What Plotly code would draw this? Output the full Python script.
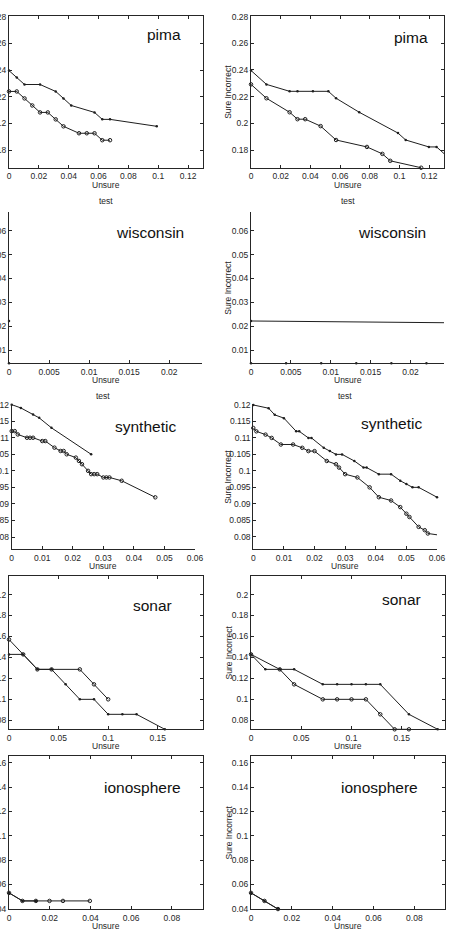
import plotly.graph_objects as go

W, H = 450, 933

# ---------------- data ----------------
# pima
pima_a_x_dot = [0, 0.0052, 0.0104, 0.0208, 0.0313, 0.0365, 0.0417, 0.0573, 0.0625, 0.0677, 0.0990]
pima_a_y_dot = [0.2396, 0.2344, 0.2292, 0.2292, 0.2240, 0.2188, 0.2135, 0.2083, 0.2031, 0.2031, 0.1979]
pima_a_x_circ = [0, 0.0052, 0.0104, 0.0156, 0.0208, 0.0260, 0.0313, 0.0365, 0.0469, 0.0521, 0.0573, 0.0625, 0.0677]
pima_a_y_circ = [0.2240, 0.2240, 0.2188, 0.2135, 0.2083, 0.2083, 0.2031, 0.1979, 0.1927, 0.1927, 0.1927, 0.1875, 0.1875]
pima_b_x_dot = [0, 0.0104, 0.0260, 0.0313, 0.0417, 0.0521, 0.0573, 0.0729, 0.0990, 0.1042, 0.1198, 0.1250, 0.1302]
pima_b_y_dot = [0.2396, 0.2292, 0.2240, 0.2240, 0.2240, 0.2240, 0.2188, 0.2083, 0.1927, 0.1875, 0.1823, 0.1823, 0.1771]
pima_b_x_circ = [0, 0.0104, 0.0260, 0.0313, 0.0365, 0.0469, 0.0573, 0.0781, 0.0885, 0.0938, 0.1146]
pima_b_y_circ = [0.2292, 0.2188, 0.2083, 0.2031, 0.2031, 0.1979, 0.1875, 0.1823, 0.1771, 0.1719, 0.1667]

# wisconsin
wisc_a_x_dot = [0]
wisc_a_y_dot = [0.0222]
wisc_a_x_base = [0]
wisc_a_y_base = [0.0045]
wisc_b_x_dot = [0, 0.03]
wisc_b_y_dot = [0.0222, 0.0213]
wisc_b_x_base = [0, 0.0044, 0.0088, 0.0132, 0.0176, 0.022]
wisc_b_y_base = [0.0045, 0.0045, 0.0045, 0.0045, 0.0045, 0.0045]

# synthetic
syn_a_x_dot = [0, 0.003, 0.007, 0.009, 0.013, 0.026]
syn_a_y_dot = [0.120, 0.119, 0.117, 0.116, 0.113, 0.105]
syn_a_x_circ = [0, 0.001, 0.002, 0.005, 0.006, 0.007, 0.010, 0.011, 0.014, 0.016, 0.017, 0.018,
                0.021, 0.022, 0.023, 0.025, 0.026, 0.027, 0.028, 0.030, 0.031, 0.032, 0.036, 0.047]
syn_a_y_circ = [0.112, 0.112, 0.111, 0.110, 0.110, 0.110, 0.109, 0.109, 0.107, 0.106, 0.106, 0.105,
                0.104, 0.103, 0.102, 0.100, 0.099, 0.099, 0.099, 0.098, 0.098, 0.098, 0.097, 0.092]
syn_b_x_dot = [0, 0.005, 0.007, 0.010, 0.014, 0.015, 0.018, 0.019, 0.023, 0.025, 0.027, 0.029,
               0.033, 0.036, 0.037, 0.041, 0.045, 0.048, 0.050, 0.052, 0.054, 0.060]
syn_b_y_dot = [0.120, 0.119, 0.117, 0.116, 0.112, 0.112, 0.110, 0.110, 0.107, 0.106, 0.105, 0.105,
               0.103, 0.101, 0.101, 0.099, 0.099, 0.097, 0.096, 0.095, 0.095, 0.092]
syn_b_x_circ = [0, 0.001, 0.004, 0.006, 0.009, 0.013, 0.016, 0.018, 0.020, 0.024, 0.027, 0.028,
                0.030, 0.034, 0.038, 0.041, 0.045, 0.048, 0.050, 0.051, 0.054, 0.056, 0.057]
syn_b_y_circ = [0.113, 0.112, 0.111, 0.110, 0.108, 0.108, 0.107, 0.106, 0.106, 0.103, 0.102, 0.101,
                0.099, 0.098, 0.095, 0.092, 0.091, 0.089, 0.087, 0.086, 0.083, 0.082, 0.081]
syn_b_x_tail = [0.057, 0.060]
syn_b_y_tail = [0.081, 0.0806]

# sonar
sonar_a_x_circ = [0, 0.0143, 0.0286, 0.0429, 0.0714, 0.0857, 0.1]
sonar_a_y_circ = [0.1571, 0.1429, 0.1286, 0.1286, 0.1286, 0.1143, 0.1]
sonar_a_x_dot = [0, 0.0143, 0.0286, 0.0429, 0.0571, 0.0714, 0.0857, 0.1, 0.1143, 0.1286, 0.1571]
sonar_a_y_dot = [0.1429, 0.1429, 0.1286, 0.1286, 0.1143, 0.1, 0.1, 0.0857, 0.0857, 0.0857, 0.0714]
sonar_b_x_dot = [0, 0.0143, 0.0286, 0.0429, 0.0714, 0.0857, 0.1, 0.1143, 0.1286, 0.1571, 0.1857]
sonar_b_y_dot = [0.1429, 0.1286, 0.1286, 0.1286, 0.1143, 0.1143, 0.1143, 0.1143, 0.1143, 0.0857, 0.0714]
sonar_b_x_circ = [0, 0.0286, 0.0429, 0.0714, 0.0857, 0.1, 0.1143, 0.1286, 0.1429, 0.1571]
sonar_b_y_circ = [0.1429, 0.1286, 0.1143, 0.1, 0.1, 0.1, 0.1, 0.0857, 0.0714, 0.0714]

# ionosphere
iono_a_x_dot = [0, 0.0066, 0.0132]
iono_a_y_dot = [0.053, 0.0464, 0.0464]
iono_a_x_circ = [0, 0.0066, 0.0132, 0.0199, 0.0265, 0.0397]
iono_a_y_circ = [0.053, 0.0464, 0.0464, 0.0464, 0.0464, 0.0464]
iono_b_x_dot = [0, 0.0066, 0.0132]
iono_b_y_dot = [0.053, 0.0464, 0.0397]
iono_b_x_circ = [0, 0.0066, 0.0132]
iono_b_y_circ = [0.053, 0.0464, 0.0397]

# tick values
pima_xticks = [0, 0.02, 0.04, 0.06, 0.08, 0.1, 0.12]
pima_yticks = [0.18, 0.2, 0.22, 0.24, 0.26, 0.28]
wisc_xticks = [0, 0.005, 0.01, 0.015, 0.02]
wisc_yticks = [0.01, 0.02, 0.03, 0.04, 0.05, 0.06]
syn_xticks = [0, 0.01, 0.02, 0.03, 0.04, 0.05, 0.06]
syn_yticks = [0.08, 0.085, 0.09, 0.095, 0.1, 0.105, 0.11, 0.115, 0.12]
sonar_xticks = [0, 0.05, 0.1, 0.15]
sonar_yticks = [0.08, 0.1, 0.12, 0.14, 0.16, 0.18, 0.2]
iono_xticks = [0, 0.02, 0.04, 0.06, 0.08]
iono_yticks = [0.04, 0.06, 0.08, 0.1, 0.12, 0.14, 0.16]

names = ["pima", "wisconsin", "synthetic", "sonar", "ionosphere"]

# ---------------- layout geometry (pixels) ----------------
boxes = {
    (0, 0): (9, 203, 15.7, 168), (0, 1): (251, 444, 15.7, 168),
    (1, 0): (9, 202, 211.5, 363.3), (1, 1): (251, 444, 212, 363.3),
    (2, 0): (11.7, 195, 404.3, 549.3), (2, 1): (253.3, 437, 404.3, 549.3),
    (3, 0): (9, 203, 575.7, 729.3), (3, 1): (251, 445, 575.7, 729.3),
    (4, 0): (9, 203, 755.7, 909.3), (4, 1): (251, 445, 755.7, 909.3),
}
ranges = {
    (0, 0): ([0, 0.13], [0.1667, 0.2807]), (0, 1): ([0, 0.13], [0.1665, 0.2807]),
    (1, 0): ([0, 0.0241], [0.0045, 0.068]), (1, 1): ([0, 0.0242], [0.0045, 0.0678]),
    (2, 0): ([0, 0.06], [0.0763, 0.1201]), (2, 1): ([0, 0.06], [0.0762, 0.1202]),
    (3, 0): ([0, 0.1956], [0.0714, 0.218]), (3, 1): ([0, 0.193], [0.0714, 0.218]),
    (4, 0): ([0, 0.0953], [0.0395, 0.1658]), (4, 1): ([0, 0.095], [0.0395, 0.1658]),
}
label_pos = {
    (0, 0): (164, 35), (0, 1): (411, 38),
    (1, 0): (150, 233), (1, 1): (392, 233),
    (2, 0): (145, 426), (2, 1): (391, 423),
    (3, 0): (152, 605), (3, 1): (401, 599),
    (4, 0): (142, 787), (4, 1): (379, 787),
}
unsure_y = [184.5, 380, 565.5, 745.5, 925.5]
tick_sets = [(pima_xticks, pima_yticks), (wisc_xticks, wisc_yticks), (syn_xticks, syn_yticks),
             (sonar_xticks, sonar_yticks), (iono_xticks, iono_yticks)]
boxed = [True, False, False, True, True]

series = {
    (0, 0): [(pima_a_x_dot, pima_a_y_dot, "dot"), (pima_a_x_circ, pima_a_y_circ, "circ")],
    (0, 1): [(pima_b_x_dot, pima_b_y_dot, "dot"), (pima_b_x_circ, pima_b_y_circ, "circ")],
    (1, 0): [(wisc_a_x_dot, wisc_a_y_dot, "dot"), (wisc_a_x_base, wisc_a_y_base, "base")],
    (1, 1): [(wisc_b_x_dot, wisc_b_y_dot, "dotclip"), (wisc_b_x_base, wisc_b_y_base, "base")],
    (2, 0): [(syn_a_x_dot, syn_a_y_dot, "dot"), (syn_a_x_circ, syn_a_y_circ, "circ")],
    (2, 1): [(syn_b_x_dot, syn_b_y_dot, "dot"), (syn_b_x_circ, syn_b_y_circ, "circ"),
             (syn_b_x_tail, syn_b_y_tail, "line")],
    (3, 0): [(sonar_a_x_dot, sonar_a_y_dot, "dot"), (sonar_a_x_circ, sonar_a_y_circ, "circ")],
    (3, 1): [(sonar_b_x_dot, sonar_b_y_dot, "dot"), (sonar_b_x_circ, sonar_b_y_circ, "circ")],
    (4, 0): [(iono_a_x_dot, iono_a_y_dot, "dot"), (iono_a_x_circ, iono_a_y_circ, "circ")],
    (4, 1): [(iono_b_x_dot, iono_b_y_dot, "dot"), (iono_b_x_circ, iono_b_y_circ, "circ")],
}

FONT = "Liberation Sans, Arial, Helvetica, sans-serif"
INK = "#262626"
LINE = "#1e1e1e"

fig = go.Figure()
annotations = []

idx = 0
for r in range(5):
    for c in range(2):
        idx += 1
        x0, x1, yt, yb = boxes[(r, c)]
        xr, yr = ranges[(r, c)]
        xt, yt_vals = tick_sets[r]
        xa = "xaxis" if idx == 1 else f"xaxis{idx}"
        ya = "yaxis" if idx == 1 else f"yaxis{idx}"
        xref = "x" if idx == 1 else f"x{idx}"
        yref = "y" if idx == 1 else f"y{idx}"
        common = dict(showline=True, linecolor=INK, linewidth=1,
                      mirror="ticks" if boxed[r] else False,
                      ticks="inside", ticklen=3, tickcolor=INK, tickwidth=1,
                      showgrid=False, zeroline=False, fixedrange=True, automargin=False,
                      tickfont=dict(family=FONT, size=8.5, color=INK))
        fig.update_layout(**{
            xa: dict(domain=[x0 / W, x1 / W], range=xr, anchor=yref,
                     tickvals=xt, ticktext=[f"{v:g}" for v in xt], **common),
            ya: dict(domain=[1 - yb / H, 1 - yt / H], range=yr, anchor=xref,
                     tickvals=yt_vals, ticktext=[f"{v:g}" for v in yt_vals], **common),
        })
        for sx, sy, kind in series[(r, c)]:
            if kind == "circ":
                marker = dict(symbol="circle-open", size=3.5, color=LINE, line=dict(width=1, color=LINE))
            else:
                marker = dict(symbol="circle", size=2.5, color=LINE)
            mode = {"base": "markers", "line": "lines"}.get(kind, "lines+markers")
            fig.add_trace(go.Scatter(
                x=sx, y=sy, xaxis=xref, yaxis=yref, mode=mode,
                line=dict(color=LINE, width=1), marker=marker,
                cliponaxis=(kind == "dotclip"), showlegend=False, hoverinfo="skip"))
        # panel label
        lx, ly = label_pos[(r, c)]
        annotations.append(dict(text=names[r], x=lx / W, y=1 - ly / H, xref="paper", yref="paper",
                                showarrow=False, xanchor="center", yanchor="middle",
                                font=dict(family=FONT, size=15.5, color="#111111")))
        # x-axis title
        annotations.append(dict(text="Unsure", x=((x0 + x1) / 2) / W, y=1 - unsure_y[r] / H,
                                xref="paper", yref="paper", showarrow=False,
                                xanchor="center", yanchor="middle",
                                font=dict(family=FONT, size=8.5, color=INK)))
        # y-axis title (right column only visible)
        if c == 1:
            annotations.append(dict(text="Sure Incorrect", x=228 / W, y=1 - ((yt + yb) / 2) / H,
                                    xref="paper", yref="paper", showarrow=False, textangle=-90,
                                    xanchor="center", yanchor="middle",
                                    font=dict(family=FONT, size=8.5, color=INK)))
        # "test" titles on wisconsin and synthetic rows
        if r in (1, 2):
            ty = 201 if r == 1 else 396
            annotations.append(dict(text="test", x=((x0 + x1) / 2) / W, y=1 - ty / H,
                                    xref="paper", yref="paper", showarrow=False,
                                    xanchor="center", yanchor="middle",
                                    font=dict(family=FONT, size=8.5, color=INK)))

fig.update_layout(width=W, height=H, margin=dict(l=0, r=0, t=0, b=0),
                  paper_bgcolor="white", plot_bgcolor="white",
                  annotations=annotations, showlegend=False)

fig.write_html("out.html")
